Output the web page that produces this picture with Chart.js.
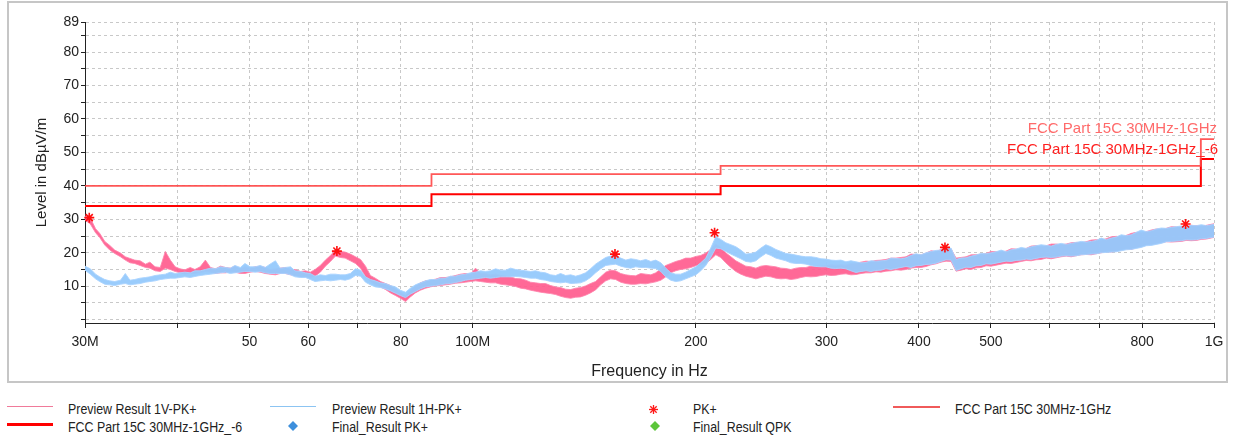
<!DOCTYPE html>
<html>
<head>
<meta charset="utf-8">
<title>Radiated emission 30MHz-1GHz</title>
<script src="https://cdn.jsdelivr.net/npm/chart.js@4.4.1/dist/chart.umd.min.js"></script>
<style>
    body { margin: 0; background: #fff; font-family: Arial, "Liberation Sans", sans-serif; }
    #frame { position: absolute; left: 7px; top: 1px; width: 1217px; height: 378px; border: 2px solid #c6c6c6; }
    #chart { position: absolute; left: 0; top: 0; }
    .lg { position: absolute; font-size: 14px; line-height: 16px; color: #222; white-space: nowrap;
          transform: scaleX(0.885); transform-origin: 0 50%; }
    .sw { position: absolute; }
</style>
</head>
<body>
<div id="frame"></div>
<canvas id="chart" width="1235" height="384"></canvas>

<!-- legend -->
<div class="sw" style="left:7px;top:406px;width:46px;height:1px;background:#f07a9a"></div>
<div class="lg" style="left:68px;top:401px">Preview Result 1V-PK+</div>
<div class="sw" style="left:7px;top:423px;width:46px;height:3px;background:#ff0000"></div>
<div class="lg" style="left:68px;top:419px">FCC Part 15C 30MHz-1GHz_-6</div>

<div class="sw" style="left:270px;top:406px;width:46px;height:1px;background:#8cc4f2"></div>
<div class="lg" style="left:332px;top:401px">Preview Result 1H-PK+</div>
<svg class="sw" style="left:288px;top:421px" width="10" height="10"><polygon points="5,0 10,5 5,10 0,5" fill="#3d8fdc"/></svg>
<div class="lg" style="left:332px;top:419px">Final_Result PK+</div>

<svg class="sw" style="left:649px;top:405px" width="9" height="9">
    <g stroke="#ff1a1a" stroke-width="1.3"><line x1="4.5" y1="0" x2="4.5" y2="9"/><line x1="0" y1="4.5" x2="9" y2="4.5"/>
    <line x1="1.3" y1="1.3" x2="7.7" y2="7.7"/><line x1="7.7" y1="1.3" x2="1.3" y2="7.7"/></g></svg>
<div class="lg" style="left:693px;top:401px">PK+</div>
<svg class="sw" style="left:650px;top:421px" width="10" height="10"><polygon points="5,0 10,5 5,10 0,5" fill="#5cc53a"/></svg>
<div class="lg" style="left:693px;top:419px">Final_Result QPK</div>

<div class="sw" style="left:893px;top:406px;width:47px;height:2px;background:#f05a5a"></div>
<div class="lg" style="left:955px;top:401px">FCC Part 15C 30MHz-1GHz</div>

<script>
// sweep frequencies in MHz (shared by both preview traces)
const freqs = [
    30.0, 30.5, 31.0, 31.4, 31.9, 32.4, 32.9, 33.5, 34.0, 34.5,
    35.0, 35.6, 36.2, 36.7, 37.3, 37.9, 38.5, 39.1, 39.7, 40.3,
    40.9, 41.6, 42.2, 42.9, 43.6, 44.3, 45.0, 45.7, 46.4, 47.1,
    47.8, 48.6, 49.3, 50.1, 50.9, 51.7, 52.5, 53.3, 54.2, 55.0,
    55.9, 56.8, 57.6, 58.6, 59.5, 60.4, 61.3, 62.3, 63.3, 64.3,
    65.3, 66.3, 67.3, 68.4, 69.5, 70.6, 71.7, 72.8, 73.9, 75.1,
    76.3, 77.5, 78.7, 79.9, 81.2, 82.4, 83.7, 85.0, 86.4, 87.7,
    89.1, 90.5, 91.9, 93.3, 94.8, 96.3, 97.8, 99.3, 100.9, 102.5,
    104.1, 105.7, 107.4, 109.1, 110.8, 112.5, 114.3, 116.1, 117.9, 119.7,
    121.6, 123.5, 125.4, 127.4, 129.4, 131.4, 133.5, 135.6, 137.7, 139.8,
    142.0, 144.2, 146.5, 148.8, 151.2, 153.5, 155.9, 158.4, 160.9, 163.4,
    165.9, 168.5, 171.2, 173.9, 176.6, 179.4, 182.2, 185.0, 187.9, 190.8,
    193.8, 196.9, 200.0, 203.1, 206.3, 209.5, 212.8, 216.1, 219.5, 223.0,
    226.5, 230.0, 233.6, 237.3, 241.0, 244.8, 248.6, 252.5, 256.4, 260.5,
    264.5, 268.6, 272.9, 277.2, 281.5, 285.9, 290.4, 295.0, 299.6, 304.3,
    309.0, 313.9, 318.8, 323.8, 328.9, 334.1, 339.3, 344.6, 350.0, 355.5,
    361.0, 366.7, 372.4, 378.3, 384.2, 390.2, 396.3, 402.5, 408.9, 415.3,
    421.8, 428.4, 435.1, 441.9, 448.8, 455.8, 463.0, 470.3, 477.6, 485.1,
    492.7, 500.4, 508.3, 516.3, 524.3, 532.5, 540.9, 549.4, 558.0, 566.7,
    575.6, 584.6, 593.8, 603.1, 612.5, 622.1, 631.9, 641.8, 651.8, 662.0,
    672.4, 683.0, 693.7, 704.6, 715.6, 726.8, 738.2, 749.8, 761.5, 773.4,
    785.5, 797.8, 810.3, 823.0, 835.9, 849.0, 862.3, 875.8, 889.6, 903.5,
    917.7, 932.1, 946.7, 961.5, 976.6, 1000
];

// Preview Result 1V-PK+ (bottom / top of the noise band, dBuV/m)
const verticalLow = [
    29.8, 28.6, 26.0, 24.6, 22.3, 20.8, 19.8, 18.8, 17.8, 17.0,
    16.8, 16.2, 15.6, 15.4, 14.6, 14.4, 15.4, 15.0, 14.4, 14.0,
    13.6, 13.8, 13.8, 14.0, 14.4, 14.2, 13.8, 14.0, 14.0, 14.2,
    14.2, 13.8, 13.8, 14.2, 14.4, 14.2, 13.8, 13.6, 13.4, 13.8,
    13.8, 13.4, 13.2, 12.8, 12.8, 12.6, 13.0, 14.2, 16.0, 17.4,
    19.0, 18.6, 18.4, 17.6, 16.8, 15.4, 12.8, 11.4, 10.4, 9.8,
    9.0, 8.0, 7.2, 6.4, 5.4, 6.8, 8.0, 8.8, 9.4, 9.8,
    10.1, 10.2, 10.4, 10.6, 10.9, 11.0, 11.2, 11.4, 11.6, 11.4,
    11.2, 11.0, 11.0, 10.6, 10.4, 10.2, 9.9, 9.4, 9.2, 8.8,
    8.5, 8.2, 8.0, 7.8, 7.5, 7.0, 6.6, 6.4, 6.7, 6.8,
    7.3, 8.0, 8.9, 10.4, 11.6, 12.2, 12.0, 11.2, 10.8, 10.6,
    10.6, 10.8, 10.7, 11.0, 11.3, 11.8, 12.8, 14.0, 14.6, 15.0,
    15.2, 15.6, 16.1, 16.4, 16.8, 18.0, 19.4, 18.6, 17.0, 15.6,
    14.4, 13.6, 13.0, 12.6, 12.2, 12.6, 13.0, 12.8, 12.4, 12.2,
    12.3, 12.0, 12.2, 12.6, 12.9, 12.8, 12.9, 13.2, 13.4, 13.2,
    13.3, 13.6, 13.7, 13.4, 13.5, 13.8, 14.0, 14.0, 14.3, 14.2,
    14.5, 14.6, 14.9, 14.8, 15.0, 15.4, 15.6, 15.6, 15.9, 16.4,
    16.7, 17.2, 17.5, 17.4, 14.5, 14.8, 15.2, 15.0, 15.5, 15.6,
    16.1, 16.0, 16.3, 16.6, 16.9, 16.8, 17.1, 17.4, 17.7, 17.6,
    17.9, 18.0, 18.4, 18.2, 18.5, 18.8, 19.0, 18.8, 19.1, 19.4,
    19.5, 19.4, 19.7, 20.0, 20.3, 20.2, 20.5, 20.8, 21.1, 21.0,
    21.5, 21.8, 22.3, 22.4, 22.7, 23.0, 23.3, 23.2, 23.3, 23.4,
    23.7, 23.6, 23.7, 24.0, 24.1, 24.6
];
const verticalHigh = [
    31.0, 30.4, 27.2, 25.8, 23.4, 22.2, 20.8, 19.9, 18.8, 18.3,
    17.8, 17.6, 16.6, 17.2, 15.8, 15.6, 20.4, 17.8, 15.8, 15.2,
    14.9, 15.6, 15.0, 15.8, 17.8, 15.6, 15.2, 16.0, 15.6, 15.4,
    16.0, 15.2, 15.8, 15.4, 15.8, 16.0, 15.6, 15.0, 15.2, 15.4,
    15.6, 15.0, 15.0, 14.4, 14.6, 14.2, 15.0, 16.2, 17.8, 19.2,
    20.8, 20.4, 20.2, 19.6, 18.8, 18.0, 16.0, 13.2, 12.4, 11.4,
    10.8, 10.2, 9.2, 8.2, 7.2, 8.8, 10.0, 11.0, 11.6, 11.8,
    12.1, 12.6, 12.6, 12.8, 13.2, 13.6, 13.8, 13.6, 15.4, 13.8,
    13.8, 13.4, 13.6, 13.2, 13.0, 12.8, 12.3, 12.2, 11.8, 11.2,
    11.0, 10.8, 10.8, 10.2, 9.8, 9.6, 9.1, 9.0, 9.4, 9.6,
    10.1, 10.8, 11.4, 12.8, 14.2, 14.8, 14.6, 13.8, 13.4, 13.2,
    13.1, 13.8, 13.6, 13.4, 14.0, 15.2, 16.2, 16.8, 17.4, 17.8,
    18.4, 18.4, 18.9, 19.2, 19.9, 21.0, 22.6, 21.6, 20.0, 18.8,
    17.6, 16.8, 16.0, 15.8, 15.4, 16.0, 16.2, 16.0, 15.8, 15.4,
    15.3, 15.0, 15.4, 15.6, 15.6, 16.0, 15.9, 16.0, 16.1, 16.4,
    16.3, 16.4, 16.3, 16.8, 16.9, 17.2, 17.5, 17.4, 17.7, 17.8,
    18.0, 18.4, 18.4, 18.6, 18.8, 19.6, 19.5, 19.4, 19.9, 20.6,
    20.4, 21.0, 21.5, 21.2, 18.4, 18.6, 18.8, 19.4, 19.4, 19.6,
    19.8, 20.4, 20.3, 20.2, 20.5, 21.2, 21.1, 21.0, 21.3, 22.0,
    22.1, 21.8, 22.1, 22.6, 22.6, 22.4, 22.6, 23.0, 23.1, 23.0,
    23.3, 23.8, 23.9, 23.8, 24.2, 24.8, 24.9, 24.8, 25.2, 25.8,
    26.1, 26.0, 26.3, 26.8, 27.1, 27.0, 27.3, 27.8, 27.7, 27.6,
    27.7, 28.2, 28.1, 28.0, 28.2, 28.7
];

// Preview Result 1H-PK+ (bottom / top of the noise band, dBuV/m)
const horizontalLow = [
    14.8, 13.6, 12.2, 11.4, 10.6, 10.4, 10.2, 10.6, 10.8, 10.4,
    10.6, 10.8, 11.2, 11.4, 11.6, 12.0, 12.2, 12.4, 12.4, 12.6,
    12.8, 12.6, 12.9, 13.2, 13.4, 13.6, 13.8, 14.0, 14.2, 13.8,
    14.0, 14.2, 14.4, 14.4, 14.2, 14.4, 14.0, 13.8, 13.8, 13.8,
    13.8, 13.4, 12.8, 12.6, 12.6, 12.0, 11.4, 11.6, 11.8, 11.6,
    11.8, 12.0, 11.8, 12.2, 13.2, 13.0, 11.2, 10.4, 9.8, 9.6,
    9.2, 8.6, 7.9, 7.2, 6.6, 7.6, 8.4, 9.2, 9.8, 10.0,
    10.2, 10.4, 10.7, 10.8, 11.1, 11.4, 11.8, 12.0, 12.2, 12.4,
    12.6, 12.4, 12.6, 12.8, 12.8, 12.8, 12.9, 12.8, 12.6, 12.4,
    12.4, 12.0, 11.8, 11.4, 11.2, 11.0, 11.2, 10.8, 10.9, 11.0,
    11.6, 12.6, 14.0, 15.2, 16.2, 16.4, 16.6, 16.0, 15.6, 15.4,
    15.8, 15.6, 15.6, 15.4, 15.3, 14.4, 12.8, 11.8, 11.4, 11.6,
    12.2, 12.8, 13.4, 14.6, 16.2, 18.6, 21.4, 21.2, 20.4, 19.6,
    18.9, 18.2, 17.4, 17.2, 17.6, 18.8, 19.8, 19.2, 18.4, 18.0,
    17.6, 17.0, 16.8, 16.8, 16.6, 16.2, 15.9, 15.8, 15.8, 15.4,
    15.3, 15.4, 15.2, 14.6, 14.1, 14.4, 14.6, 14.4, 14.7, 14.8,
    15.2, 15.0, 15.3, 15.6, 15.9, 15.6, 16.1, 16.2, 16.5, 16.6,
    16.9, 17.4, 17.9, 17.8, 14.7, 15.2, 15.7, 15.6, 16.1, 16.2,
    16.7, 16.6, 16.9, 17.2, 17.5, 17.4, 17.7, 17.8, 18.1, 18.0,
    18.3, 18.6, 18.7, 18.6, 18.7, 19.0, 19.1, 19.0, 19.1, 19.4,
    19.5, 19.6, 19.7, 20.0, 20.1, 20.2, 20.3, 20.6, 20.9, 21.0,
    21.3, 21.6, 22.1, 22.2, 22.5, 22.8, 23.3, 23.4, 23.5, 23.6,
    23.9, 23.8, 23.9, 24.2, 24.3, 24.7
];
const horizontalHigh = [
    16.0, 15.2, 13.6, 12.8, 12.0, 11.6, 11.4, 11.8, 13.8, 11.8,
    12.0, 12.4, 12.6, 12.8, 13.2, 13.4, 13.6, 14.2, 13.8, 14.0,
    14.2, 14.0, 14.6, 14.6, 15.0, 15.4, 15.2, 15.8, 15.6, 15.4,
    16.2, 15.6, 16.8, 15.8, 15.8, 16.2, 15.6, 16.6, 17.6, 15.4,
    15.6, 15.8, 14.6, 14.4, 14.0, 13.8, 13.0, 13.4, 13.2, 13.6,
    13.6, 13.4, 13.4, 13.8, 15.2, 14.8, 12.8, 12.0, 11.6, 11.0,
    10.8, 10.2, 9.8, 8.8, 8.2, 9.4, 10.4, 11.0, 11.6, 12.0,
    12.0, 12.4, 12.4, 13.0, 13.0, 13.4, 13.6, 14.0, 14.2, 14.6,
    14.4, 14.6, 15.2, 14.8, 14.8, 15.4, 15.0, 14.8, 14.6, 14.4,
    14.6, 14.2, 14.0, 13.4, 13.2, 13.8, 13.2, 13.4, 13.0, 13.4,
    14.0, 15.2, 16.6, 17.6, 18.6, 19.0, 19.2, 18.4, 17.8, 18.2,
    18.0, 17.6, 18.0, 17.4, 17.8, 17.0, 15.4, 14.0, 13.6, 13.6,
    14.2, 15.0, 15.8, 17.0, 18.4, 21.4, 24.8, 24.0, 23.0, 22.4,
    21.8, 20.8, 19.6, 19.8, 20.2, 21.4, 22.4, 21.8, 21.0, 20.4,
    19.8, 19.6, 19.3, 19.0, 18.8, 18.8, 18.6, 18.2, 18.1, 17.8,
    17.7, 17.8, 17.3, 17.6, 17.3, 17.0, 17.1, 17.6, 17.5, 17.6,
    17.7, 18.4, 18.3, 18.2, 18.5, 19.2, 19.7, 19.4, 20.0, 20.4,
    20.7, 20.8, 21.1, 21.4, 18.0, 18.4, 18.5, 19.0, 19.3, 19.8,
    19.7, 20.0, 20.3, 20.8, 20.3, 20.9, 21.1, 21.6, 21.3, 21.8,
    22.1, 22.4, 22.2, 22.0, 22.5, 22.8, 22.5, 22.8, 23.1, 23.4,
    23.2, 23.4, 23.7, 24.4, 23.9, 24.4, 24.7, 25.4, 25.1, 25.4,
    26.1, 26.8, 26.3, 26.6, 27.1, 27.4, 27.3, 27.6, 27.8, 28.0,
    27.7, 28.2, 28.1, 28.4, 28.1, 28.5
];

// FCC Part 15C limit and the -6 dB margin line
const limitFreq = [30, 88, 88, 216, 216, 960, 960, 1000];
const limitLevel = [40, 40, 43.5, 43.5, 46, 46, 54, 54];
const limit6Level = [34, 34, 37.5, 37.5, 40, 40, 48, 48];

// PK+ peaks
const peakFreq = [30.4, 65.6, 155.6, 212.0, 433.6, 915.6];
const peakLevel = [30.5, 20.5, 19.6, 26.0, 21.6, 28.6];

// axes
const freqTicks = [30, 40, 50, 60, 70, 80, 100, 200, 300, 400, 500, 600, 700, 800, 1000];
const freqLabels = { 30: '30M', 50: '50', 60: '60', 80: '80', 100: '100M', 200: '200', 300: '300',
                     400: '400', 500: '500', 800: '800', 1000: '1G' };
const levelTicks = [0, 5, 10, 15, 20, 25, 30, 35, 40, 45, 50, 55, 60, 65, 70, 75, 80, 85, 89];
const levelLabels = [10, 20, 30, 40, 50, 60, 70, 80, 89];

const limitName = 'FCC Part 15C 30MHz-1GHz';
const limit6Name = 'FCC Part 15C 30MHz-1GHz_-6';

function pts(xs, ys) {
    return xs.map((x, i) => ({ x: x, y: ys[i] }));
}

const PINK = 'rgba(255, 92, 142, 0.92)';
const PINK_EDGE = 'rgba(255, 130, 172, 0.85)';
const BLUE = 'rgba(150, 202, 252, 0.96)';
const BLUE_EDGE = 'rgba(168, 211, 255, 0.9)';

// labels of the two limit lines at the right end
const limitLabels = {
    id: 'limitLabels',
    afterDatasetsDraw(chart) {
        const { ctx, chartArea, scales } = chart;
        ctx.save();
        ctx.font = '15px Arial, "Liberation Sans", sans-serif';
        ctx.textAlign = 'right';
        ctx.textBaseline = 'middle';
        ctx.fillStyle = '#ff6a6a';
        ctx.fillText(limitName, chartArea.right + 3, scales.y.getPixelForValue(57));
        ctx.fillStyle = '#ff1f1f';
        ctx.fillText(limit6Name, chartArea.right + 4, scales.y.getPixelForValue(50.7));
        ctx.restore();
    }
};

const tickFont = { family: 'Arial, "Liberation Sans", sans-serif', size: 14 };

new Chart(document.getElementById('chart').getContext('2d'), {
    type: 'line',
    data: {
        datasets: [
            { label: 'PK+', data: pts(peakFreq, peakLevel), showLine: false, order: 0, clip: false,
              pointStyle: 'star', pointRadius: 5, pointBorderWidth: 1.6,
              pointBorderColor: '#ff1010', pointBackgroundColor: '#ff1010' },
            { label: limitName, data: pts(limitFreq, limitLevel), order: 1,
              borderColor: 'rgba(255, 70, 70, 0.9)', borderWidth: 1.8, pointRadius: 0 },
            { label: limit6Name, data: pts(limitFreq, limit6Level), order: 1,
              borderColor: '#ff0000', borderWidth: 2, pointRadius: 0 },
            { label: 'Preview Result 1H-PK+', data: pts(freqs, horizontalLow), order: 2,
              borderColor: BLUE_EDGE, borderWidth: 1, pointRadius: 0 },
            { label: 'Preview Result 1H-PK+ max', data: pts(freqs, horizontalHigh), order: 2,
              borderColor: BLUE_EDGE, borderWidth: 1, pointRadius: 0, fill: '-1', backgroundColor: BLUE },
            { label: 'Preview Result 1V-PK+', data: pts(freqs, verticalLow), order: 3,
              borderColor: PINK_EDGE, borderWidth: 1, pointRadius: 0 },
            { label: 'Preview Result 1V-PK+ max', data: pts(freqs, verticalHigh), order: 3,
              borderColor: PINK_EDGE, borderWidth: 1, pointRadius: 0, fill: '-1', backgroundColor: PINK }
        ]
    },
    options: {
        responsive: false,
        animation: false,
        layout: { padding: { left: 33, right: 21, top: 22, bottom: 0 } },
        plugins: { legend: { display: false }, tooltip: { enabled: false } },
        scales: {
            x: {
                type: 'logarithmic',
                min: 30,
                max: 1000,
                afterFit: s => { s.height = 61; },
                afterBuildTicks: s => { s.ticks = freqTicks.map(v => ({ value: v })); },
                ticks: {
                    autoSkip: false, maxRotation: 0, padding: 6, color: '#222', font: tickFont,
                    callback: v => freqLabels[v] || ''
                },
                grid: { color: '#c8c8c8', tickColor: '#222', tickLength: 5, tickBorderDash: [] },
                border: { display: true, color: '#222', width: 1, dash: [3, 3] },
                title: { display: true, text: 'Frequency in Hz', color: '#222',
                         font: { family: tickFont.family, size: 16 }, padding: { top: 0, bottom: 3 } }
            },
            y: {
                min: -1,
                max: 89,
                afterFit: s => { s.width = 52; },
                afterBuildTicks: s => { s.ticks = levelTicks.map(v => ({ value: v })); },
                ticks: {
                    autoSkip: false, padding: 2, color: '#222', font: tickFont,
                    callback: v => levelLabels.includes(v) ? String(v) : ''
                },
                grid: { color: '#c8c8c8', tickColor: '#222', tickLength: 4, tickBorderDash: [] },
                border: { display: true, color: '#222', width: 1, dash: [3, 3] },
                title: { display: true, text: 'Level in dBµV/m', color: '#222',
                         font: { family: tickFont.family, size: 15 }, padding: 0 }
            }
        }
    },
    plugins: [limitLabels]
});
</script>
</body>
</html>
